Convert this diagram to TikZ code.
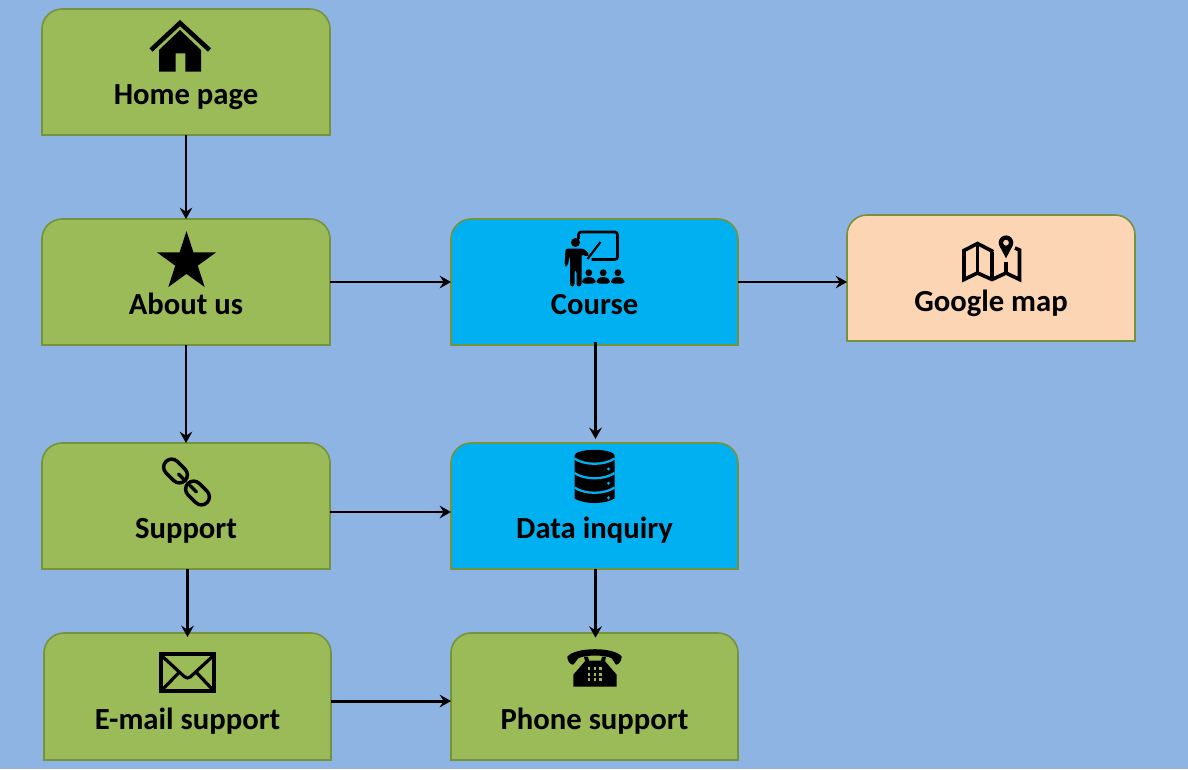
\documentclass[tikz,border=0pt]{standalone}
\usepackage{fontspec}
\setmainfont{Carlito}
\usepackage{xcolor}
\usetikzlibrary{arrows, arrows.meta, positioning, calc}

\definecolor{bgblue}{HTML}{8EB4E3}
\definecolor{boxgreen}{HTML}{9BBB59}
\definecolor{boxcyan}{HTML}{00B0F0}
\definecolor{boxpeach}{HTML}{FCD5B5}
\definecolor{boxedge}{HTML}{76923C}

% box with rounded top corners, square bottom corners
\newcommand{\tabbox}[6]{%
  \node[tabspot, minimum width=#5*0.75pt, minimum height=#6*0.75pt] (#1) at (#3, #4) {};
  \draw[tabline, fill=#2] (#1.south west) [rounded corners=15pt] -- (#1.north west) -- (#1.north east) [sharp corners] -- (#1.south east) -- cycle;
}

\tikzset{
  tabspot/.style={rectangle, inner sep=0pt, outer sep=0pt},
  tabline/.style={draw=boxedge, line width=1.2pt},
  tabtext/.style={anchor=base, font=\fontsize{23}{27}\selectfont\bfseries, text=black, inner sep=0pt},
  arrow/.style={-{Stealth[length=8.5pt, width=9.5pt, inset=3pt]}, line width=2.2pt, black},
  pics/homeicon/.style={code={
    \fill (-21.5,5) -- (-0.5,-15) -- (20.5,5) -- (20.5,26.5) -- (4.8,26.5) -- (4.8,8.3) -- (-4.8,8.3) -- (-4.8,26.5) -- (-21.5,26.5) -- cycle;
    \draw[line width=3.4pt, miter limit=10] (-29.5,5) -- (-0.5,-22) -- (29,5);
  }},
  pics/staricon/.style={code={
    \fill (-90:31) -- (-54:11.84) -- (-18:31) -- (18:11.84) -- (54:31) -- (90:11.84) -- (126:31) -- (162:11.84) -- (198:31) -- (234:11.84) -- cycle;
  }},
  pics/courseicon/.style={code={
    % board
    \draw[line width=2pt, rounded corners=2pt] (-17,-17) -- (-17,-24) -- (22,-24) -- (22,3.5) -- (-4,3.5);
    % teacher
    \fill (-20,-13.5) circle (4.5);
    \fill[rounded corners=2pt] (-30,-7.5) -- (-12,-7.5) -- (-6,-2) -- (-8,1) -- (-14,-2) -- (-14,30.5) -- (-19,30.5) -- (-19,14) -- (-21,14) -- (-21,30.5) -- (-25.5,30.5) -- (-25.5,-1) -- (-28,10.5) -- (-31,10) -- cycle;
    \draw[line width=1.6pt] (-8,3) -- (5,-14);
    % audience
    \foreach \cx in {-6.7, 7.7, 22.3} {
      \fill (\cx,16.7) circle (3.4);
      \fill[rounded corners=2pt] (\cx-6.7,27.5) -- (\cx-6.7,24) -- (\cx-3,21) -- (\cx+3,21) -- (\cx+6.7,24) -- (\cx+6.7,27.5) -- cycle;
    }
  }},
  pics/mapicon/.style={code={
    % folded sheet
    \draw[line width=2.7pt, line join=miter] (2.3,-6.3) -- (-13.5,-14.5) -- (-27,-7.5) -- (-27,21.5) -- (-13.5,15) -- (1,21.5) -- (15,15) -- (28.5,21.5) -- (28.5,-8) -- (24,-10);
    \draw[line width=2.7pt] (-13.5,-14.5) -- (-13.5,15) (1,-6) -- (1,21.5) (15,4) -- (15,15);
    % pin
    \fill[even odd rule] (15,-15.3) circle (3) (15,0.3) -- (8.14,-12.8) arc[start angle=160, end angle=380, radius=7.3] -- cycle;
  }},
  pics/chainicon/.style={code={
    \foreach \lx/\ly in {-11/-11, 11/11} {
      \begin{scope}[shift={(\lx,\ly)}, rotate=-45]
        \draw[line width=2.6pt, rounded corners=6pt] (-13.5,-8) rectangle (13.5,8);
      \end{scope}
    }
    \draw[line width=2.4pt, line cap=round] (-8,-8) -- (-1,-1) (3.5,3.5) -- (10,10);
  }},
  pics/dbicon/.style={code={
    \fill (-20,-21.5) arc[start angle=180, end angle=0, x radius=20, y radius=-5.7] -- (20,21.5) .. controls (10,27.5) and (-10,27.5) .. (-20,21.5) -- cycle;
    \foreach \by in {-18.5, -4, 10.5} {
      \draw[boxcyan, line width=1.7pt] (-20,\by) .. controls (-10,\by+7) and (10,\by+7) .. (20,\by);
    }
    \foreach \by in {-8, 6.3, 20.7} {
      \fill[boxcyan] (14,\by) circle (1.6);
    }
  }},
  pics/mailicon/.style={code={
    \draw[line width=3pt] (-26.5,-18.5) rectangle (26.5,18.5);
    \draw[line width=2.4pt, rounded corners=3pt] (-25,-16) -- (0,7) -- (25,-16);
    \draw[line width=2.4pt] (-25,17) -- (-8.5,0) (25,17) -- (9,0);
  }},
  pics/phoneicon/.style={code={
    % handset
    \fill (-27.7,-10) .. controls (-20,-20) and (20,-20) .. (26.7,-10) .. controls (26.7,-6) and (24,-2) .. (21,-2) -- (16.7,-8.5) .. controls (10,-12) and (-10,-12) .. (-16.7,-8.5) -- (-21.7,-2) .. controls (-25,-2) and (-27.7,-6) .. (-27.7,-10) -- cycle;
    % base
    \fill (-21.7,20) -- (21.7,20) -- (21.7,8) -- (10,-5.5) -- (11,-10) -- (7,-10) -- (6,-6) -- (-6,-6) -- (-7,-10) -- (-11,-10) -- (-10,-5.5) -- (-21.7,8) -- cycle;
    % keypad
    \foreach \kx in {-6,0,5.7} {
      \foreach \ky in {1.5,7.5,13} {
        \fill[boxgreen] (\kx-1.3,\ky-1.3) rectangle (\kx+1.3,\ky+1.3);
      }
    }
  }},
}

\begin{document}
\begin{tikzpicture}[x=0.75pt, y=-0.75pt]

\useasboundingbox (0, 0) rectangle (1188, 769);
\fill[bgblue] (0, 0) rectangle (1188, 769);

% Boxes
\tabbox{home}{boxgreen}{186}{72}{288}{126}
\tabbox{about}{boxgreen}{186}{282}{288}{126}
\tabbox{support}{boxgreen}{186}{506}{288}{126}
\tabbox{email}{boxgreen}{187.5}{696.5}{287}{127}
\tabbox{course}{boxcyan}{594.5}{282}{287}{126}
\tabbox{data}{boxcyan}{594.5}{506}{287}{126}
\tabbox{phone}{boxgreen}{594.5}{696.5}{287}{127}
\tabbox{gmap}{boxpeach}{991}{278}{288}{126}

% Labels
\node[tabtext] (homelabel) at (186, 104) {Home page};
\node[tabtext] (aboutlabel) at (186, 314) {About us};
\node[tabtext] (supportlabel) at (186, 538) {Support};
\node[tabtext] (emaillabel) at (187.5, 729) {E-mail support};
\node[tabtext] (courselabel) at (594.5, 314) {Course};
\node[tabtext] (datalabel) at (594.5, 538) {Data inquiry};
\node[tabtext] (phonelabel) at (594.5, 729) {Phone support};
\node[tabtext] (gmaplabel) at (991, 311) {Google map};

% Icons
\pic at (180.5, 45) {homeicon};
\pic at (186.5, 262) {staricon};
\pic at (595.5, 256) {courseicon};
\pic at (991, 258) {mapicon};
\pic at (186.5, 482) {chainicon};
\pic at (594.5, 477) {dbicon};
\pic at (187.5, 672.5) {mailicon};
\pic at (595, 666.7) {phoneicon};

% Arrows
\draw[arrow] (home.south) -- (about.north);
\draw[arrow] (about.south) -- (support.north);
\draw[arrow, shorten >=-3pt] (email.north |- support.south) -- (email.north);
\draw[arrow] (about.east) -- (course.west);
\draw[arrow] (course.east) -- (course.east -| gmap.west);
\draw[arrow, shorten <=-2.5pt, shorten >=3pt] ([xshift=0.75pt]course.south) -- ([xshift=0.75pt]data.north);
\draw[arrow] ([yshift=-4.5pt]support.east) -- ([yshift=-4.5pt]data.west);
\draw[arrow, shorten >=-3.5pt] ([xshift=0.75pt]data.south) -- ([xshift=0.75pt]phone.north);
\draw[arrow] ([yshift=-3.4pt]email.east) -- ([yshift=-3.4pt]phone.west);

\end{tikzpicture}
\end{document}
